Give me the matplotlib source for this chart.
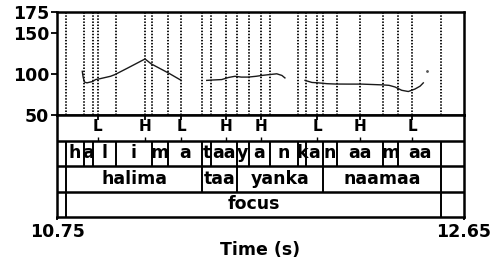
import matplotlib
matplotlib.use('Agg')
import matplotlib.pyplot as plt

# Time range (s) and pitch range (Hz)
t_min, t_max = 10.75, 12.65
f_min, f_max = 50, 175
pitch_ticks = [50, 100, 150, 175]

# Pitch contour pieces (time s, F0 Hz)
c1_t = [10.868, 10.872, 10.878, 10.890, 10.905, 10.915, 10.930, 10.950, 11.000, 11.020, 11.080, 11.161, 11.190, 11.270, 11.330]
c1_f = [103, 96, 90, 89, 90, 90.5, 93, 94, 97, 99, 107, 118, 112, 101, 92]
c2_t = [11.449, 11.480, 11.519, 11.550, 11.581, 11.610, 11.643, 11.680, 11.706, 11.740, 11.776, 11.800, 11.814]
c2_f = [92, 92.5, 93, 95.5, 97, 96, 96, 97, 98, 99, 100, 98, 95]
c3_t = [11.908, 11.940, 11.970, 12.010, 12.048, 12.110, 12.172, 12.273, 12.300, 12.328, 12.359, 12.390, 12.421, 12.445, 12.460]
c3_f = [92, 89.5, 89, 88, 87.6, 87.5, 87.5, 86.5, 86, 84, 80, 78.5, 81.5, 85, 89]
stray_t = [12.476]
stray_f = [103]

# Tone tier (points)
tone_t = [10.941, 11.161, 11.329, 11.539, 11.702, 11.964, 12.165, 12.407]
tone_lab = ['L', 'H', 'L', 'H', 'H', 'L', 'H', 'L']

# Segment tier
seg_b = [10.75, 10.792, 10.876, 10.918, 11.025, 11.193, 11.268, 11.427, 11.469, 11.590,
         11.646, 11.744, 11.875, 11.912, 11.992, 12.057, 12.272, 12.342, 12.543, 12.65]
seg_lab = ['', 'h', 'a', 'l', 'i', 'm', 'a', 't', 'aa', 'y', 'a', 'n', 'k', 'a', 'n', 'aa', 'm', 'aa', '']

# Word tier
word_b = [10.75, 10.792, 11.427, 11.590, 11.992, 12.543, 12.65]
word_lab = ['', 'halima', 'taa', 'yanka', 'naamaa', '']

# Focus tier
focus_b = [10.75, 10.792, 12.543, 12.65]
focus_lab = ['', 'focus', '']

W, H = 494, 264
fig = plt.figure(figsize=(W / 100, H / 100), dpi=100)
fnt = dict(family='DejaVu Sans', weight='bold')

L, R = 57, 464
ax1 = fig.add_axes([L / W, 1 - 115 / H, (R - L) / W, 103 / H])
ax2 = fig.add_axes([L / W, 1 - 217 / H, (R - L) / W, 102 / H])

# pitch part
dotted = sorted(set(seg_b[1:-1] + tone_t))
ax1.vlines(dotted, f_min, f_max, colors='k', linestyles=(0, (0.8, 0.9)), lw=1.3)
for tt, ff in [(c1_t, c1_f), (c2_t, c2_f), (c3_t, c3_f)]:
    ax1.plot(tt, ff, color='#1a1a1a', lw=1.0)
ax1.plot(stray_t, stray_f, '.', color='#555', ms=2)
ax1.set_xlim(t_min, t_max)
ax1.set_ylim(f_min, f_max)
ax1.set_xticks([])
ax1.set_yticks(pitch_ticks)
ax1.set_yticklabels([str(v) for v in pitch_ticks], fontsize=12.5, fontweight='bold')
ax1.tick_params(axis='y', direction='out', length=4.5, width=1.3, pad=1)
for s in ax1.spines.values():
    s.set_linewidth(1.8)

# tiers
ax2.set_xlim(t_min, t_max)
ax2.set_ylim(0, 4)
ax2.set_yticks([])
ax2.hlines([1, 2, 3], t_min, t_max, colors='k', lw=1.8)

ax2.vlines(tone_t, 3.8, 4, colors='k', lw=1.3)
ax2.vlines(tone_t, 3, 3.12, colors='k', lw=1.0)
for t, lab in zip(tone_t, tone_lab):
    ax2.text(t, 3.55, lab, ha='center', va='center', fontsize=11, **fnt)

for y0, bounds, labs in [(2, seg_b, seg_lab), (1, word_b, word_lab), (0, focus_b, focus_lab)]:
    ax2.vlines(bounds[1:-1], y0, y0 + 1, colors='k', lw=1.4)
    for a, b, lab in zip(bounds[:-1], bounds[1:], labs):
        if lab:
            ax2.text((a + b) / 2, y0 + 0.5, lab, ha='center', va='center', fontsize=12.5, **fnt)

ax2.set_xticks([t_min, t_max])
ax2.set_xticklabels(['10.75', '12.65'], fontsize=12.5, fontweight='bold')
ax2.tick_params(axis='x', direction='out', length=2.5, width=1.3, pad=2)
ax2.set_xlabel('Time (s)', fontsize=12.5, fontweight='bold', labelpad=0)
for s in ax2.spines.values():
    s.set_linewidth(1.8)

fig.savefig('out.png', dpi=100, facecolor='white')
